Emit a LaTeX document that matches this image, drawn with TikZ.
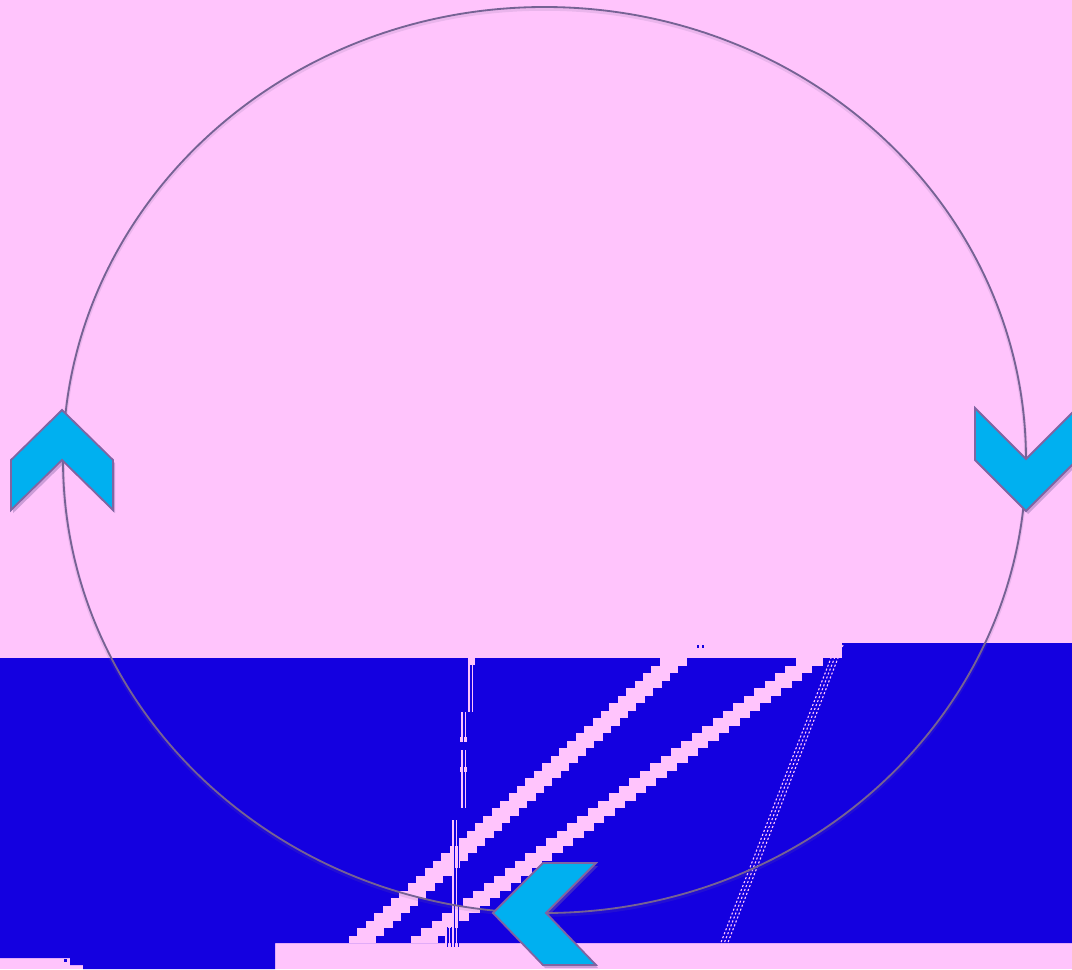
\documentclass[tikz,border=0pt]{standalone}
\usepackage{tikz}
\usetikzlibrary{shadows}
\definecolor{glpink}{RGB}{255,196,252}
\definecolor{glblue}{RGB}{20,0,224}
\definecolor{chevcyan}{RGB}{0,176,240}
\definecolor{chevedge}{RGB}{128,100,162}
\definecolor{ringgray}{RGB}{118,98,148}

\begin{document}
\begin{tikzpicture}[x=0.025cm,y=-0.025cm,
  chev/.style={fill=chevcyan,draw=chevedge,line width=1.3pt,line join=miter,
    drop shadow={opacity=0.4,fill=chevedge,shadow xshift=1.5pt,shadow yshift=-2.2pt}},
  ring/.style={draw=ringgray,line width=1.3pt},
  glitch/.style={glpink,line width=0.8pt},
  glitchdark/.style={glblue,line width=0.7pt}]
\clip (0,0) rectangle (1072,969);
\fill[glpink] (0,0) rectangle (1072,969);
\begin{scope}
\fill[glblue] (0,658) -- (842,658) -- (842,643) -- (1072,643) -- (1072,943) -- (275,943)
   -- (275,969) -- (83,969) -- (83,965) -- (70,965) -- (70,958) -- (0,958) -- cycle;
\foreach \k in {0,...,37}{
  \fill[glpink] ({349+8.4*\k},{943-7.5*(\k+1)}) rectangle ++(27,7.5);
  \fill[glpink] ({411+10.4*\k},{943-7.5*(\k+1)}) rectangle ++(27,7.5);
}
\fill[glpink] (468,657) rectangle (475,665);
\fill[glpink] (460,737) rectangle (467,742);
\fill[glpink] (460,767) rectangle (467,772);
\foreach \xa/\ya/\yb in {469/665/712, 462/712/742, 462/750/808, 453/820/947, 446/927/947}{
  \draw[glitch] (\xa,\ya) -- (\xa,\yb);
  \draw[glitchdark] ({\xa+1.8},\ya) -- ({\xa+1.8},\yb);
  \draw[glitch] ({\xa+3.6},\ya) -- ({\xa+3.6},\yb);
  \draw[glitchdark] ({\xa+5.4},\ya) -- ({\xa+5.4},\yb);
}
\foreach \dx in {0,3.5,7}{
  \draw[glitch,dash pattern=on 1.5pt off 1.5pt] ({836+\dx},645) -- ({720+\dx},945);
}
\fill[glblue] (697,645) rectangle (699,648);
\fill[glblue] (702,645) rectangle (704,648);
\fill[glblue] (64,959) rectangle (67,962);
\end{scope}
\draw[ringgray,opacity=0.15,line width=2.5pt] (544.5,462) ellipse [x radius=481.5, y radius=453];
\draw[ring] (544.5,460) ellipse [x radius=481.5, y radius=453];
\path[chev] (62,410) -- (113,460) -- (113,510) -- (62,460) -- (11,510) -- (11,460) -- cycle;
\path[chev] (975,408) -- (1026,459) -- (1077,408) -- (1077,460) -- (1026,511) -- (975,460) -- cycle;
\path[chev] (493,913) -- (543,863) -- (596,863) -- (546,913) -- (596,965) -- (543,965) -- cycle;
\end{tikzpicture}
\end{document}
